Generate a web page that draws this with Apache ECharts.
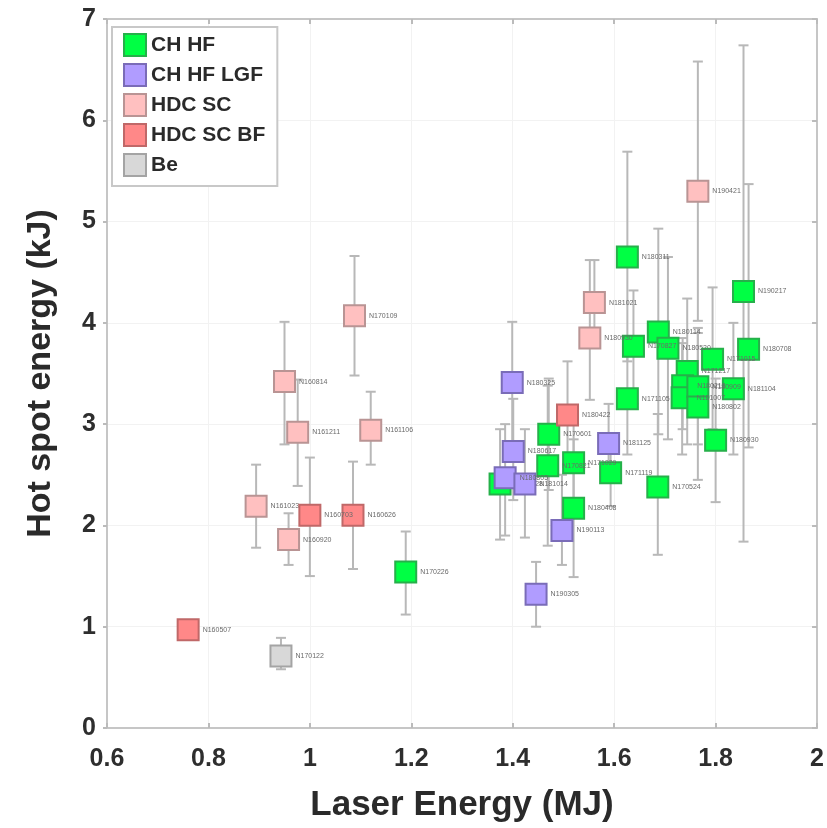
<!DOCTYPE html>
<html>
<head>
<meta charset="utf-8">
<script src="https://cdn.jsdelivr.net/npm/echarts@6/dist/echarts.min.js"></script>
<style>
html,body{margin:0;padding:0;background:#fff;}
#chart{width:827px;height:828px;}
</style>
</head>
<body>
<div id="chart"></div>
<script>
// ---- data ----
const xTicks = [0.6, 0.8, 1, 1.2, 1.4, 1.6, 1.8, 2];
const yTicks = [0, 1, 2, 3, 4, 5, 6, 7];

const chhfX  = [1.189, 1.375, 1.471, 1.469, 1.520, 1.520, 1.593, 1.686, 1.800, 1.626, 1.626, 1.638, 1.687, 1.706, 1.744, 1.735, 1.734, 1.765, 1.765, 1.794, 1.835, 1.865, 1.855];
const chhfY  = [1.54, 2.41, 2.90, 2.59, 2.62, 2.17, 2.52, 2.38, 2.84, 3.25, 4.65, 3.77, 3.91, 3.75, 3.52, 3.38, 3.26, 3.37, 3.17, 3.64, 3.35, 3.74, 4.31];
const chhfLo = [1.12, 1.86, 2.35, 1.80, 2.10, 1.49, 2.19, 1.71, 2.23, 2.70, 3.62, 3.20, 2.90, 2.85, 2.80, 2.95, 2.70, 2.80, 2.45, 2.95, 2.70, 2.77, 1.84];
const chhfHi = [1.94, 2.95, 3.45, 3.38, 3.15, 2.85, 2.87, 3.10, 3.45, 3.80, 5.69, 4.32, 4.93, 4.65, 4.24, 3.85, 3.80, 3.95, 3.90, 4.35, 4.00, 5.37, 6.74];
const chhfShots = ["N170226","N180128","N170601","N170821","N171029","N180408","N171119","N170524","N180930","N171105","N180311","N170827","N180114","N180520","N171217","N180218","N181007","N180909","N180802","N171015","N181104","N180708","N190217"];

const lgfX  = [1.399, 1.401, 1.385, 1.424, 1.497, 1.446, 1.589];
const lgfY  = [3.41, 2.73, 2.47, 2.41, 1.95, 1.32, 2.81];
const lgfLo = [2.80, 2.25, 1.90, 1.88, 1.61, 1.00, 2.45];
const lgfHi = [4.01, 3.25, 3.00, 2.95, 2.50, 1.64, 3.20];
const lgfShots = ["N180325","N180617","N180805","N181014","N190113","N190305","N181125"];

const hdcX  = [0.894, 0.950, 0.976, 0.958, 1.088, 1.120, 1.552, 1.561, 1.765];
const hdcY  = [2.19, 3.42, 2.92, 1.86, 4.07, 2.94, 3.85, 4.20, 5.30];
const hdcLo = [1.78, 2.80, 2.39, 1.61, 3.48, 2.60, 3.24, 3.78, 4.02];
const hdcHi = [2.60, 4.01, 3.44, 2.12, 4.66, 3.32, 4.62, 4.62, 6.58];
const hdcShots = ["N161023","N160814","N161211","N160920","N170109","N161106","N180930","N181021","N190421"];

const bfX  = [0.760, 1.000, 1.085, 1.508];
const bfY  = [0.97, 2.10, 2.10, 3.09];
const bfLo = [0.97, 1.50, 1.57, 2.60];
const bfHi = [0.97, 2.67, 2.63, 3.62];
const bfShots = ["N160507","N160703","N160626","N180422"];

const beX  = [0.943];
const beY  = [0.71];
const beLo = [0.58];
const beHi = [0.89];
const beShots = ["N170122"];

const groups = [
  {name:'CH HF',     x:chhfX, y:chhfY, lo:chhfLo, hi:chhfHi, shots:chhfShots, fill:'#00ff44', edge:'#26b04a'},
  {name:'CH HF LGF', x:lgfX,  y:lgfY,  lo:lgfLo,  hi:lgfHi,  shots:lgfShots,  fill:'#b09cff', edge:'#7a6cb8'},
  {name:'HDC SC',    x:hdcX,  y:hdcY,  lo:hdcLo,  hi:hdcHi,  shots:hdcShots,  fill:'#ffc0c0', edge:'#b99494'},
  {name:'HDC SC BF', x:bfX,   y:bfY,   lo:bfLo,   hi:bfHi,   shots:bfShots,   fill:'#ff8888', edge:'#c06868'},
  {name:'Be',        x:beX,   y:beY,   lo:beLo,   hi:beHi,   shots:beShots,   fill:'#d8d8d8', edge:'#a4a4a4'}
];

const FONT = "'Liberation Sans', Arial, Helvetica, sans-serif";

// error bar data
const errData = [];
groups.forEach(g => g.x.forEach((xv, i) => errData.push([xv, g.lo[i], g.hi[i]])));

const series = [{
  type: 'custom',
  z: 1,
  silent: true,
  data: errData,
  encode: {x: 0, y: [1, 2]},
  renderItem: function (params, api) {
    const x = api.value(0), lo = api.value(1), hi = api.value(2);
    if (lo === hi) return null;
    const pLo = api.coord([x, lo]);
    const pHi = api.coord([x, hi]);
    const cw = 5;
    const st = {stroke: '#b8b8b8', lineWidth: 2};
    return {
      type: 'group',
      children: [
        {type: 'line', shape: {x1: pLo[0], y1: pLo[1], x2: pHi[0], y2: pHi[1]}, style: st},
        {type: 'line', shape: {x1: pLo[0]-cw, y1: pLo[1], x2: pLo[0]+cw, y2: pLo[1]}, style: st},
        {type: 'line', shape: {x1: pHi[0]-cw, y1: pHi[1], x2: pHi[0]+cw, y2: pHi[1]}, style: st}
      ]
    };
  }
}];

groups.forEach((g, gi) => {
  series.push({
    name: g.name,
    type: 'scatter',
    z: 2 + gi,
    symbol: 'rect',
    symbolSize: 21,
    itemStyle: {color: g.fill, borderColor: g.edge, borderWidth: 2, opacity: 1},
    label: {
      show: true,
      position: 'right',
      distance: 3,
      offset: [0, -14],
      fontSize: 7,
      color: '#6a6a6a',
      fontFamily: FONT,
      formatter: p => g.shots[p.dataIndex]
    },
    labelLayout: {hideOverlap: false},
    emphasis: {disabled: true},
    data: g.x.map((xv, i) => [xv, g.y[i]])
  });
});

const axisLineStyle = {color: '#c6c6c6', width: 2};

const option = {
  animation: false,
  backgroundColor: '#ffffff',
  textStyle: {fontFamily: FONT},
  grid: {left: 107, right: 5, top: 19, bottom: 99, containLabel: false},
  legend: {
    left: 112, top: 27,
    orient: 'vertical',
    data: groups.map(g => g.name),
    icon: 'rect',
    itemWidth: 22, itemHeight: 22, itemGap: 6,
    padding: [6, 12, 9, 11],
    borderColor: '#c8c8c8', borderWidth: 2,
    backgroundColor: '#ffffff',
    textStyle: {fontSize: 21, fontWeight: 'bold', color: '#2a2a2a', fontFamily: FONT},
    selectedMode: false
  },
  xAxis: [{
    type: 'value', min: xTicks[0], max: xTicks[xTicks.length-1], interval: 0.2,
    position: 'bottom',
    axisLine: {show: true, onZero: false, lineStyle: axisLineStyle},
    axisTick: {show: true, inside: true, length: 5, lineStyle: {color: '#bbbbbb', width: 2}},
    axisLabel: {fontSize: 25, fontWeight: 'bold', color: '#2e2e2e', margin: 19, fontFamily: FONT,
      formatter: v => String(Math.round(v*10)/10)},
    splitLine: {show: true, lineStyle: {color: '#f2f2f2', width: 1}},
    name: 'Laser Energy (MJ)', nameLocation: 'middle', nameGap: 60,
    nameTextStyle: {fontSize: 35, fontWeight: 'bold', color: '#2a2a2a', fontFamily: FONT}
  }, {
    type: 'value', min: xTicks[0], max: xTicks[xTicks.length-1], interval: 0.2,
    position: 'top',
    axisLine: {show: true, onZero: false, lineStyle: axisLineStyle},
    axisTick: {show: true, inside: true, length: 5, lineStyle: {color: '#bbbbbb', width: 2}},
    axisLabel: {show: false},
    splitLine: {show: false}
  }],
  yAxis: [{
    type: 'value', min: yTicks[0], max: yTicks[yTicks.length-1], interval: 1,
    position: 'left',
    axisLine: {show: true, onZero: false, lineStyle: axisLineStyle},
    axisTick: {show: true, inside: false, length: 4, lineStyle: {color: '#bbbbbb', width: 2}},
    axisLabel: {fontSize: 25, fontWeight: 'bold', color: '#2e2e2e', margin: 11, fontFamily: FONT},
    splitLine: {show: true, lineStyle: {color: '#f2f2f2', width: 1}},
    name: 'Hot spot energy (kJ)', nameLocation: 'middle', nameGap: 49,
    nameTextStyle: {fontSize: 34, fontWeight: 'bold', color: '#2a2a2a', fontFamily: FONT}
  }, {
    type: 'value', min: yTicks[0], max: yTicks[yTicks.length-1], interval: 1,
    position: 'right',
    axisLine: {show: true, onZero: false, lineStyle: axisLineStyle},
    axisTick: {show: true, inside: true, length: 5, lineStyle: {color: '#bbbbbb', width: 2}},
    axisLabel: {show: false},
    splitLine: {show: false}
  }],
  series: series
};

const chart = echarts.init(document.getElementById('chart'), null, {renderer: 'canvas'});
chart.setOption(option);
</script>
</body>
</html>
